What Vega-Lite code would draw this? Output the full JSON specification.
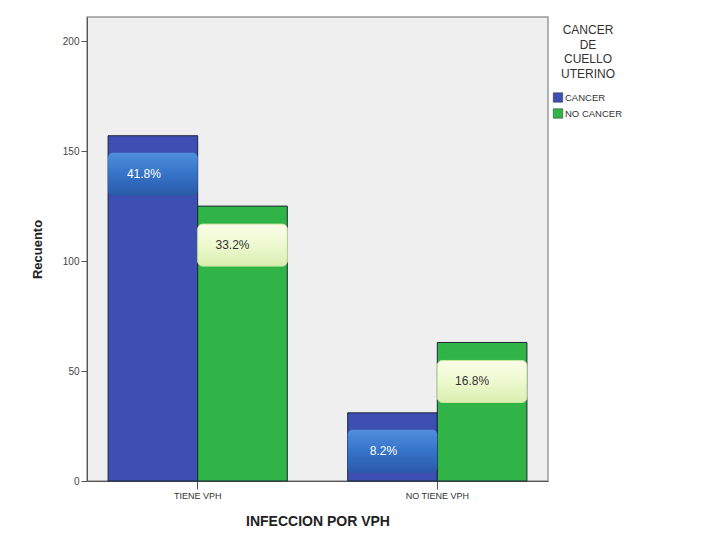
{
  "$schema": "https://vega.github.io/schema/vega-lite/v6.json",
  "width": 461,
  "height": 464,
  "autosize": {"type": "none"},
  "padding": {"left": 87, "top": 17, "right": 166, "bottom": 59},
  "background": "#ffffff",
  "config": {
    "font": "Liberation Sans",
    "view": {"fill": "#efefef", "stroke": "#9a9a9a", "strokeWidth": 1.5},
    "axis": {"domainColor": "#555", "tickColor": "#555", "labelColor": "#444", "titleColor": "#222", "grid": false}
  },
  "data": {
    "values": [
      {"vph": "TIENE VPH", "cancer": "CANCER", "count": 157, "pct": "41.8%"},
      {"vph": "TIENE VPH", "cancer": "NO CANCER", "count": 125, "pct": "33.2%"},
      {"vph": "NO TIENE VPH", "cancer": "CANCER", "count": 31, "pct": "8.2%"},
      {"vph": "NO TIENE VPH", "cancer": "NO CANCER", "count": 63, "pct": "16.8%"}
    ]
  },
  "encoding": {
    "x": {
      "field": "vph", "type": "nominal", "sort": ["TIENE VPH", "NO TIENE VPH"],
      "scale": {"paddingInner": 0.252, "paddingOuter": 0.088},
      "axis": {"title": "INFECCION POR VPH", "labelAngle": 0, "labelFontSize": 9, "labelColor": "#333", "titleFontSize": 14, "titleFontWeight": "bold", "titlePadding": 14, "tickSize": 8, "labelPadding": 2}
    },
    "xOffset": {"field": "cancer", "type": "nominal", "sort": ["CANCER", "NO CANCER"]},
    "y": {
      "field": "count", "type": "quantitative",
      "scale": {"domain": [0, 211], "nice": false},
      "axis": {"title": "Recuento", "values": [0, 50, 100, 150, 200], "labelFontSize": 10, "titleFontSize": 13, "titleFontWeight": "bold", "titlePadding": 18, "tickSize": 6}
    }
  },
  "layer": [
    {
      "mark": {"type": "bar", "stroke": "#1c2638", "strokeWidth": 1},
      "encoding": {
        "color": {
          "field": "cancer", "type": "nominal", "sort": ["CANCER", "NO CANCER"],
          "scale": {"domain": ["CANCER", "NO CANCER"], "range": ["#3d4fb2", "#30b447"]},
          "legend": {
            "title": ["CANCER", "DE", "CUELLO", "UTERINO"],
            "orient": "none", "legendX": 466, "legendY": 8,
            "titleFontWeight": "normal", "titleFontSize": 12, "titleColor": "#333",
            "titleAlign": "center", "titleAnchor": "middle", "titleLineHeight": 14.5,
            "labelFontSize": 9.5, "labelColor": "#333", "symbolType": "square", "symbolSize": 90,
            "symbolStrokeColor": "#333", "symbolStrokeWidth": 0.5,
            "rowPadding": 4, "labelOffset": 2, "titlePadding": 12
          }
        }
      }
    },
    {
      "transform": [{"filter": "datum.cancer == 'CANCER'"}],
      "mark": {
        "type": "bar", "yOffset": 17, "y2Offset": 60, "cornerRadius": 5,
        "fill": {"gradient": "linear", "x1": 0, "y1": 0, "x2": 0, "y2": 1,
          "stops": [{"offset": 0, "color": "#4f8fdc"}, {"offset": 0.5, "color": "#3573c8"}, {"offset": 1, "color": "#2a5aa8"}]}
      },
      "encoding": {"y2": {"field": "count"}}
    },
    {
      "transform": [{"filter": "datum.cancer == 'NO CANCER'"}],
      "mark": {
        "type": "bar", "yOffset": 18, "y2Offset": 60, "cornerRadius": 5, "stroke": "#c9e6a0", "strokeWidth": 1,
        "fill": {"gradient": "linear", "x1": 0, "y1": 0, "x2": 0, "y2": 1,
          "stops": [{"offset": 0, "color": "#fafde8"}, {"offset": 0.5, "color": "#eef9cf"}, {"offset": 1, "color": "#d9efb0"}]}
      },
      "encoding": {"y2": {"field": "count"}}
    },
    {
      "transform": [{"filter": "datum.cancer == 'CANCER'"}],
      "mark": {"type": "text", "yOffset": 38, "baseline": "middle", "align": "center", "dx": -9, "fontSize": 12, "color": "#ffffff"},
      "encoding": {"text": {"field": "pct"}}
    },
    {
      "transform": [{"filter": "datum.cancer == 'NO CANCER'"}],
      "mark": {"type": "text", "yOffset": 39, "baseline": "middle", "align": "center", "dx": -10, "fontSize": 12, "color": "#333333"},
      "encoding": {"text": {"field": "pct"}}
    }
  ]
}
